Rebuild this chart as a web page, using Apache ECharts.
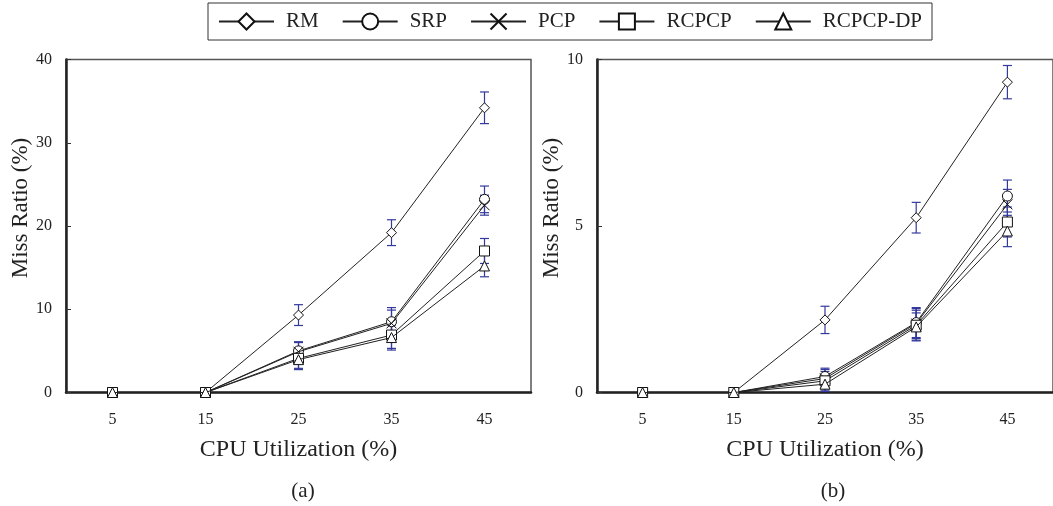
<!DOCTYPE html>
<html>
<head>
<meta charset="utf-8">
<script src="https://cdn.jsdelivr.net/npm/echarts@6/dist/echarts.min.js"></script>
<style>
  html, body { margin: 0; padding: 0; background: #fff; }
  #chart { width: 1053px; height: 506px; }
</style>
</head>
<body>
<div id="chart"></div>
<script>
// CPU utilization levels (%)
const categories = ['5', '15', '25', '35', '45'];
const seriesNames = ['RM', 'SRP', 'PCP', 'RCPCP', 'RCPCP-DP'];

// Panel (a): miss ratio (%)
const rmA       = [0, 0, 9.3, 19.2, 34.2];
const srpA      = [0, 0, 5.0, 8.5, 23.2];
const pcpA      = [0, 0, 4.9, 8.3, 22.5];
const rcpcpA    = [0, 0, 4.1, 6.9, 17.0];
const rcpcpDpA  = [0, 0, 3.95, 6.6, 15.2];
// Panel (a): error half-widths
const rmErrA      = [0, 0, 1.25, 1.55, 1.9];
const srpErrA     = [0, 0, 1.1, 1.7, 1.6];
const pcpErrA     = [0, 0, 1.1, 1.6, 1.2];
const rcpcpErrA   = [0, 0, 1.2, 1.6, 1.5];
const rcpcpDpErrA = [0, 0, 1.2, 1.5, 1.3];

// Panel (b): miss ratio (%)
const rmB       = [0, 0, 2.18, 5.25, 9.32];
const srpB      = [0, 0, 0.48, 2.1, 5.9];
const pcpB      = [0, 0, 0.42, 2.07, 5.65];
const rcpcpB    = [0, 0, 0.35, 2.02, 5.12];
const rcpcpDpB  = [0, 0, 0.25, 1.97, 4.85];
// Panel (b): error half-widths
const rmErrB      = [0, 0, 0.41, 0.46, 0.5];
const srpErrB     = [0, 0, 0.25, 0.45, 0.48];
const pcpErrB     = [0, 0, 0.27, 0.45, 0.45];
const rcpcpErrB   = [0, 0, 0.28, 0.45, 0.45];
const rcpcpDpErrB = [0, 0, 0.22, 0.42, 0.47];

// Y axis ranges
const yMaxA = 40, yStepA = 10;
const yMaxB = 10, yStepB = 5;

const FONT = '"Liberation Serif", "Times New Roman", serif';
const TEXT = '#222';
const ERR_COLOR = '#343a9c';
const symbols = ['diamond', 'circle', 'path://M0,0L10,10M10,0L0,10', 'rect', 'triangle'];

const valuesA = [rmA, srpA, pcpA, rcpcpA, rcpcpDpA];
const errorsA = [rmErrA, srpErrA, pcpErrA, rcpcpErrA, rcpcpDpErrA];
const valuesB = [rmB, srpB, pcpB, rcpcpB, rcpcpDpB];
const errorsB = [rmErrB, srpErrB, pcpErrB, rcpcpErrB, rcpcpDpErrB];

function errorBarItem(params, api) {
  const x = api.value(0);
  const top = api.coord([x, api.value(2)]);
  const bot = api.coord([x, api.value(1)]);
  const w = 4.5;
  const style = { stroke: ERR_COLOR, lineWidth: 1.2 };
  return {
    type: 'group',
    children: [
      { type: 'line', shape: { x1: top[0], y1: top[1], x2: bot[0], y2: bot[1] }, style },
      { type: 'line', shape: { x1: top[0] - w, y1: top[1], x2: top[0] + w, y2: top[1] }, style },
      { type: 'line', shape: { x1: bot[0] - w, y1: bot[1], x2: bot[0] + w, y2: bot[1] }, style }
    ]
  };
}

function buildSeries(values, errors, axisIndex) {
  const out = [];
  values.forEach((vals, i) => {
    const bars = [];
    vals.forEach((v, j) => {
      if (errors[i][j] > 0) bars.push([j, v - errors[i][j], v + errors[i][j]]);
    });
    out.push({
      type: 'custom',
      xAxisIndex: axisIndex,
      yAxisIndex: axisIndex,
      renderItem: errorBarItem,
      encode: { x: 0, y: [1, 2] },
      data: bars,
      z: 1,
      silent: true
    });
  });
  values.forEach((vals, i) => {
    out.push({
      name: seriesNames[i],
      type: 'line',
      xAxisIndex: axisIndex,
      yAxisIndex: axisIndex,
      data: vals,
      symbol: symbols[i],
      symbolSize: 10,
      showAllSymbol: true,
      lineStyle: { color: '#222', width: 1 },
      itemStyle: { color: '#fff', borderColor: '#111', borderWidth: 1 },
      emphasis: { disabled: true },
      z: 3 + i
    });
  });
  return out;
}

function xAxis(gridIndex) {
  return {
    type: 'category',
    gridIndex,
    data: categories,
    boundaryGap: true,
    name: 'CPU Utilization (%)',
    nameLocation: 'middle',
    nameGap: 45,
    nameTextStyle: { fontFamily: FONT, fontSize: 24, color: TEXT },
    axisLine: { lineStyle: { color: '#222', width: 2.5 } },
    axisTick: { inside: true, length: 6, lineStyle: { color: '#333', width: 1 } },
    axisLabel: { fontFamily: FONT, fontSize: 16, color: TEXT, margin: 19 },
    splitLine: { show: false }
  };
}

function yAxis(gridIndex, max, step, gap) {
  return {
    type: 'value',
    gridIndex,
    min: 0,
    max: max,
    interval: step,
    name: 'Miss Ratio (%)',
    nameLocation: 'middle',
    nameRotate: 90,
    nameGap: gap,
    nameTextStyle: { fontFamily: FONT, fontSize: 23, color: TEXT, padding: [0, 0, 0, 36] },
    axisLine: { show: true, lineStyle: { color: '#222', width: 2.5 } },
    axisTick: { show: true, inside: true, length: 5, lineStyle: { color: '#333', width: 1 } },
    axisLabel: { fontFamily: FONT, fontSize: 16, color: TEXT, margin: 14 },
    splitLine: { show: false }
  };
}

const chart = echarts.init(document.getElementById('chart'), null, { renderer: 'canvas' });
chart.setOption({
  backgroundColor: '#fff',
  animation: false,
  title: [
    { text: '(a)', left: 298, top: 476, textAlign: 'center',
      textStyle: { fontFamily: FONT, fontSize: 21, fontWeight: 'normal', color: TEXT } },
    { text: '(b)', left: 828, top: 476, textAlign: 'center',
      textStyle: { fontFamily: FONT, fontSize: 21, fontWeight: 'normal', color: TEXT } }
  ],
  legend: {
    data: seriesNames,
    left: 208,
    top: 3,
    itemWidth: 55,
    itemHeight: 20,
    itemGap: 23,
    padding: [8, 10, 8, 10],
    borderColor: '#333',
    borderWidth: 1,
    selectedMode: false,
    textStyle: { fontFamily: FONT, fontSize: 21, color: TEXT, padding: [0, 0, 0, 7] }
  },
  grid: [
    { left: 66, top: 59.5, width: 465, height: 333, show: true, borderColor: '#555', borderWidth: 1.5, containLabel: false },
    { left: 597, top: 59.5, width: 462, height: 333, show: true, borderColor: '#555', borderWidth: 1.5, containLabel: false }
  ],
  xAxis: [xAxis(0), xAxis(1)],
  yAxis: [yAxis(0, yMaxA, yStepA, 30), yAxis(1, yMaxB, yStepB, 24)],
  series: [].concat(buildSeries(valuesA, errorsA, 0), buildSeries(valuesB, errorsB, 1))
});
</script>
</body>
</html>
